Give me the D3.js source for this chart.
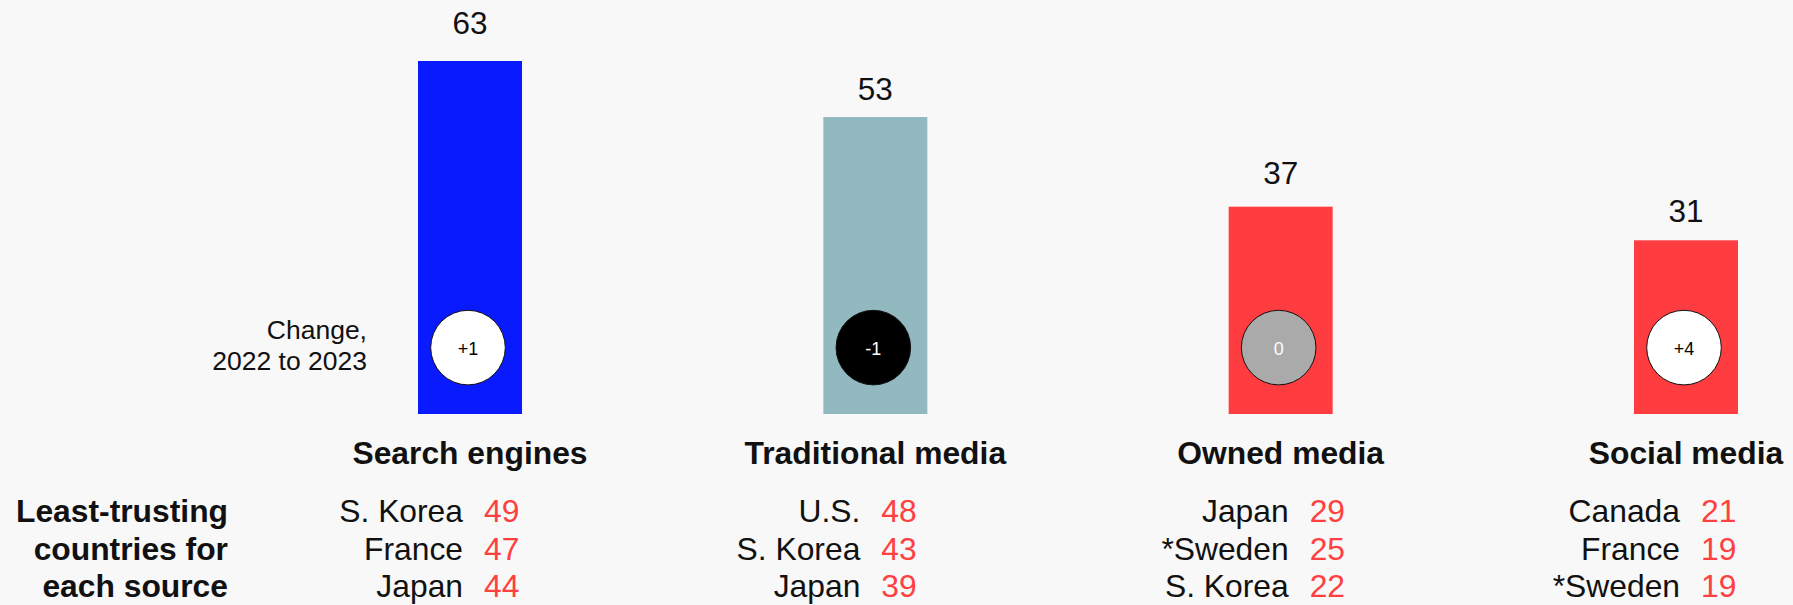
<!DOCTYPE html>
<html>
<head>
<meta charset="utf-8">
<script src="https://cdn.jsdelivr.net/npm/d3@7"></script>
<style>
  html, body { margin: 0; padding: 0; background: #f8f8f8; }
  svg { display: block; font-family: "Liberation Sans", Arial, Helvetica, sans-serif; }
</style>
</head>
<body>
<svg id="chart" width="1793" height="605"></svg>
<script>
// Trust in information sources, 2023 (percent trusting)
const sources = ["Search engines", "Traditional media", "Owned media", "Social media"];
const trust2023 = [63, 53, 37, 31];
const change = [1, -1, 0, 4];

// Least-trusting countries per source
const leastCountries = [
  ["S. Korea", "France", "Japan"],
  ["U.S.", "S. Korea", "Japan"],
  ["Japan", "*Sweden", "S. Korea"],
  ["Canada", "France", "*Sweden"]
];
const leastValues = [
  [49, 47, 44],
  [48, 43, 39],
  [29, 25, 22],
  [21, 19, 19]
];

// Layout
const W = 1793, H = 605;
const barWidth = 104;
const baseY = 414;
const labelLift = [27, 17, 23, 18];   // space between value label baseline and bar top
const tableShift = [-7, -15, 8, -6];  // right edge of country names relative to bar centre
const rowY = [522, 559.6, 597.2];
const textSize = 31.8;

const svg = d3.select("#chart");
svg.append("rect").attr("width", W).attr("height", H).attr("fill", "#f8f8f8");

const x = d3.scalePoint().domain(sources).range([470, 1686]);
const y = d3.scaleLinear().domain([0, 63]).range([baseY, 61]);

// Trust / neutral / distrust bands
const trustColor = d3.scaleThreshold().domain([50, 60]).range(["#ff3d40", "#93b9c0", "#0a1aff"]);

const g = svg.selectAll("g.source")
  .data(sources.map((s, i) => ({ s, i, v: trust2023[i], c: change[i] })))
  .join("g").attr("class", "source");

g.append("rect")
  .attr("x", d => x(d.s) - barWidth / 2)
  .attr("y", d => y(d.v))
  .attr("width", barWidth)
  .attr("height", d => y(0) - y(d.v))
  .attr("fill", d => trustColor(d.v));

g.append("text")
  .attr("x", d => x(d.s))
  .attr("y", d => y(d.v) - labelLift[d.i])
  .attr("text-anchor", "middle")
  .attr("font-size", 31.5)
  .attr("fill", "#111")
  .text(d => d.v);

// Change bubbles
const bubbleFill = c => c > 0 ? "#ffffff" : c < 0 ? "#000000" : "#aaaaaa";
const bubbleText = c => c > 0 ? "#000000" : "#ffffff";
const bubbleY = 347.6;

g.append("circle")
  .attr("cx", d => x(d.s) - 2)
  .attr("cy", bubbleY)
  .attr("r", 37.3)
  .attr("fill", d => bubbleFill(d.c))
  .attr("stroke", "#111")
  .attr("stroke-width", 1);

g.append("text")
  .attr("x", d => x(d.s) - 2)
  .attr("y", bubbleY + 1)
  .attr("text-anchor", "middle")
  .attr("dominant-baseline", "central")
  .attr("font-size", 18)
  .attr("fill", d => bubbleText(d.c))
  .text(d => d.c > 0 ? "+" + d.c : String(d.c));

// Category names
g.append("text")
  .attr("x", d => x(d.s))
  .attr("y", 464)
  .attr("text-anchor", "middle")
  .attr("font-size", textSize)
  .attr("font-weight", "bold")
  .attr("fill", "#111")
  .text(d => d.s);

// Least-trusting table under each bar
g.each(function (d) {
  const sel = d3.select(this);
  const nameX = x(d.s) + tableShift[d.i];
  leastCountries[d.i].forEach((name, r) => {
    sel.append("text")
      .attr("x", nameX).attr("y", rowY[r])
      .attr("text-anchor", "end")
      .attr("font-size", textSize)
      .attr("fill", "#111")
      .text(name);
    sel.append("text")
      .attr("x", nameX + 21).attr("y", rowY[r])
      .attr("text-anchor", "start")
      .attr("font-size", textSize)
      .attr("fill", "#ff4040")
      .text(leastValues[d.i][r]);
  });
});

// Change caption
const cap = svg.append("text")
  .attr("text-anchor", "end")
  .attr("font-size", 26.5)
  .attr("fill", "#111");
cap.append("tspan").attr("x", 367).attr("y", 339).text("Change,");
cap.append("tspan").attr("x", 367).attr("y", 370).text("2022 to 2023");

// Row header
const hdr = svg.append("text")
  .attr("text-anchor", "end")
  .attr("font-size", textSize)
  .attr("font-weight", "bold")
  .attr("fill", "#111");
["Least-trusting", "countries for", "each source"].forEach((t, r) => {
  hdr.append("tspan").attr("x", 228).attr("y", rowY[r]).text(t);
});
</script>
</body>
</html>
